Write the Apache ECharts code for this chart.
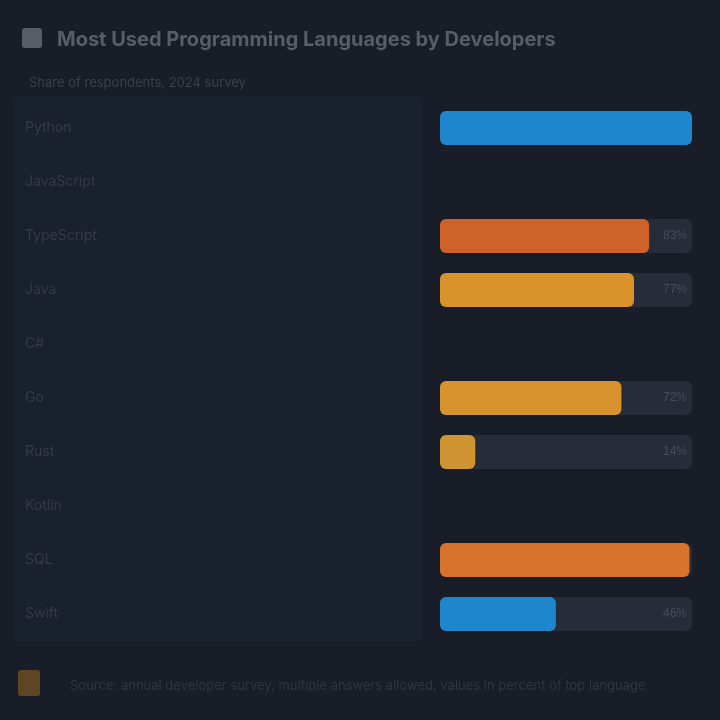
<!DOCTYPE html>
<html>
<head>
<meta charset="utf-8">
<script src="https://cdn.jsdelivr.net/npm/echarts@6/dist/echarts.min.js"></script>
<style>
    html, body { margin: 0; padding: 0; background: #191d28; }
    #chart1 { width: 720px; height: 720px; }
</style>
</head>
<body>
<div id="chart1"></div>
<script>
// rows of the chart, top to bottom (empty rows have no bar)
var categories = ['Python', 'JavaScript', 'TypeScript', 'Java', 'C#', 'Go', 'Rust', 'Kotlin', 'SQL', 'Swift'];
var values = [100, null, 83, 77, null, 72, 14, null, 99, 46];
var trackValues = [100, null, 100, 100, null, 100, 100, null, 100, 100];
var barColors = ['#1d86cc', null, '#cf6229', '#d9922c', null, '#d9932e', '#cf9533', null, '#d9732b', '#1d86cc'];

var _chart1 = echarts.init(document.getElementById('chart1'));
var option1 = {
    backgroundColor: '#191d28',
    title: [
        {
            text: 'Most Used Programming Languages by Developers',
            left: 52,
            top: 25,
            textStyle: { color: '#585d68', fontSize: 20, fontWeight: 'bold', fontFamily: 'Inter' }
        },
        {
            text: 'Share of respondents, 2024 survey',
            left: 24,
            top: 72,
            textStyle: { color: '#3a404b', fontSize: 13, fontWeight: 'normal', fontFamily: 'Inter' }
        }
    ],
    graphic: [
        { type: 'rect', left: 22, top: 28, shape: { width: 20, height: 20, r: 3 }, style: { fill: '#585d68' } },
        { type: 'rect', left: 14, top: 96, shape: { width: 408, height: 546, r: 4 }, style: { fill: '#1a212e' }, z: -1 },
        { type: 'rect', left: 18, top: 670, shape: { width: 22, height: 26, r: 3 }, style: { fill: '#5e4624' } },
        {
            type: 'text', left: 70, top: 680,
            style: { text: 'Source: annual developer survey, multiple answers allowed, values in percent of top language', fill: '#2f3542', fontSize: 13, fontFamily: 'Inter' }
        }
    ],
    grid: { left: 440, right: 28, top: 101, bottom: 79 },
    xAxis: {
        type: 'value', min: 0, max: 100,
        show: false
    },
    yAxis: {
        type: 'category',
        data: categories,
        inverse: true,
        axisLine: { show: false },
        axisTick: { show: false },
        axisLabel: {
            align: 'left', margin: 415,
            color: '#343a46', fontSize: 14, fontFamily: 'Inter'
        }
    },
    series: [
        {
            name: 'track',
            type: 'bar',
            data: trackValues,
            barWidth: 34,
            barGap: '-100%',
            silent: true,
            itemStyle: { color: '#262c38', borderRadius: 6 },
            label: {
                show: true, position: 'insideRight', color: '#474d59', fontSize: 12,
                formatter: function (p) { return values[p.dataIndex] + '%'; }
            },
            z: 1
        },
        {
            name: 'share',
            type: 'bar',
            barWidth: 34,
            data: values.map(function (v, i) {
                return v == null ? null : { value: v, itemStyle: { color: barColors[i] } };
            }),
            itemStyle: { borderRadius: 6 },
            z: 2
        }
    ]
};
_chart1.setOption(option1);
</script>
</body>
</html>
